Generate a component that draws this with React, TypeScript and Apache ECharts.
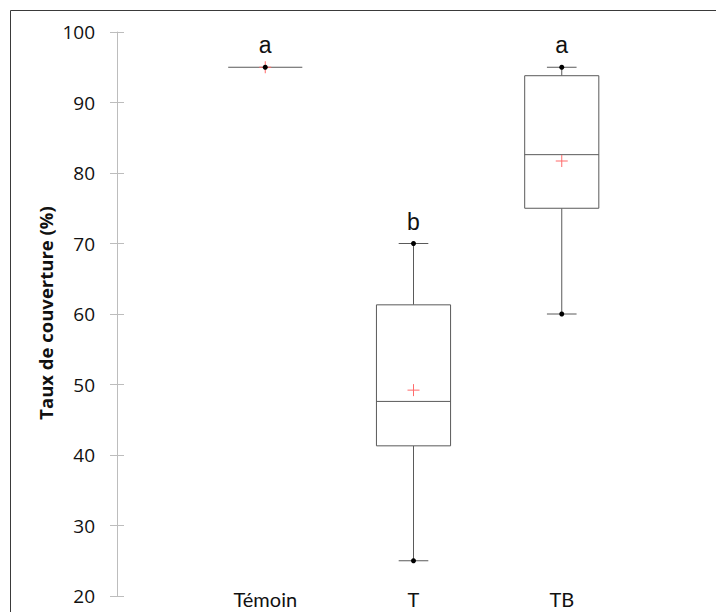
import React, { useEffect, useRef } from "react";
import * as echarts from "echarts";

// ---- data ----
const categories = ["Témoin", "T", "TB"];
const minValues = [95, 25, 60];
const q1Values = [95, 41.3, 75];
const medianValues = [95, 47.6, 82.6];
const q3Values = [95, 61.3, 93.8];
const maxValues = [95, 70, 95];
const meanValues = [95, 49.2, 81.7];
const letters = ["a", "b", "a"];
const yTicks = { min: 20, max: 100, interval: 10 };
const yAxisTitle = "Taux de couverture (%)";

const axisCategories = ["", ...categories, ""];

export default function App() {
  const ref = useRef<HTMLDivElement>(null);

  useEffect(() => {
    if (!ref.current) return;
    const chart = echarts.init(ref.current, null, { renderer: "svg" });

    const seriesData = categories.map((_, i) => [
      i + 1,
      minValues[i],
      q1Values[i],
      medianValues[i],
      q3Values[i],
      maxValues[i],
      meanValues[i],
    ]);

    const lineColor = "#5a5a5a";

    const renderItem = (params: any, api: any) => {
      const xi = api.value(0);
      const band = api.size([1, 0])[0];
      const boxW = band * 0.5;
      const capW = band * 0.2;
      const pMin = api.coord([xi, api.value(1)]);
      const pQ1 = api.coord([xi, api.value(2)]);
      const pMed = api.coord([xi, api.value(3)]);
      const pQ3 = api.coord([xi, api.value(4)]);
      const pMax = api.coord([xi, api.value(5)]);
      const pMean = api.coord([xi, api.value(6)]);
      const cx = pMed[0];
      const lineStyle = { stroke: lineColor, lineWidth: 1, fill: "none" };
      const children: any[] = [];
      const collapsed = api.value(1) === api.value(5);
      if (!collapsed) {
        children.push({
          type: "line",
          shape: { x1: cx, y1: pMax[1], x2: cx, y2: pQ3[1] },
          style: lineStyle,
        });
        children.push({
          type: "line",
          shape: { x1: cx, y1: pQ1[1], x2: cx, y2: pMin[1] },
          style: lineStyle,
        });
        children.push({
          type: "line",
          shape: { x1: cx - capW / 2, y1: pMax[1], x2: cx + capW / 2, y2: pMax[1] },
          style: lineStyle,
        });
        children.push({
          type: "line",
          shape: { x1: cx - capW / 2, y1: pMin[1], x2: cx + capW / 2, y2: pMin[1] },
          style: lineStyle,
        });
        children.push({
          type: "rect",
          shape: { x: cx - boxW / 2, y: pQ3[1], width: boxW, height: pQ1[1] - pQ3[1] },
          style: { stroke: lineColor, lineWidth: 1, fill: "#ffffff" },
        });
      }
      children.push({
        type: "line",
        shape: { x1: cx - boxW / 2, y1: pMed[1], x2: cx + boxW / 2, y2: pMed[1] },
        style: lineStyle,
      });
      const m = 6;
      children.push({
        type: "line",
        shape: { x1: pMean[0] - m, y1: pMean[1], x2: pMean[0] + m, y2: pMean[1] },
        style: { stroke: "#ff6b6b", lineWidth: 1 },
      });
      children.push({
        type: "line",
        shape: { x1: pMean[0], y1: pMean[1] - m, x2: pMean[0], y2: pMean[1] + m },
        style: { stroke: "#ff6b6b", lineWidth: 1 },
      });
      children.push({
        type: "circle",
        shape: { cx, cy: pMax[1], r: 2.5 },
        style: { fill: "#000000" },
      });
      if (!collapsed) {
        children.push({
          type: "circle",
          shape: { cx, cy: pMin[1], r: 2.5 },
          style: { fill: "#000000" },
        });
      }
      children.push({
        type: "text",
        style: {
          text: letters[params.dataIndex],
          x: cx,
          y: pMax[1] - 22,
          align: "center",
          verticalAlign: "middle",
          font: '23px "Liberation Sans", Arial, sans-serif',
          fill: "#111111",
        },
      });
      return { type: "group", children };
    };

    chart.setOption({
      animation: false,
      grid: { left: 117, right: 6, top: 32, bottom: 16, containLabel: false },
      xAxis: {
        type: "category",
        data: axisCategories,
        boundaryGap: false,
        axisLine: { show: false },
        axisTick: { show: false },
        splitLine: { show: false },
        axisLabel: {
          interval: 0,
          margin: 3,
          verticalAlign: "middle",
          lineHeight: 15,
          color: "#111111",
          fontFamily: "Lato, sans-serif",
          fontSize: 20,
        },
      },
      yAxis: [
        {
          type: "value",
          min: yTicks.min,
          max: yTicks.max,
          interval: yTicks.interval,
          position: "left",
          axisLine: { show: true, lineStyle: { color: "#bdbdbd", width: 1 } },
          axisTick: { show: true, inside: false, length: 7, lineStyle: { color: "#bdbdbd" } },
          splitLine: { show: false },
          axisLabel: {
            margin: 22,
            color: "#111111",
            fontFamily: '"Open Sans", sans-serif',
            fontSize: 19,
          },
        },
        {
          type: "value",
          min: yTicks.min,
          max: yTicks.max,
          interval: yTicks.interval,
          position: "left",
          offset: 0,
          axisLine: { show: false },
          axisTick: { show: true, inside: true, length: 7, lineStyle: { color: "#bdbdbd" } },
          splitLine: { show: false },
          axisLabel: { show: false },
        },
      ],
      graphic: [
        {
          type: "rect",
          shape: { x: 10.5, y: 10.5, width: 800, height: 800 },
          style: { fill: "none", stroke: "#3a3a3a", lineWidth: 1 },
          silent: true,
        },
        {
          type: "text",
          x: 45,
          y: 313,
          rotation: Math.PI / 2,
          style: {
            text: yAxisTitle,
            font: 'bold 18.5px "Open Sans", sans-serif',
            fill: "#111111",
            align: "center",
            verticalAlign: "middle",
          },
        },
      ],
      series: [
        {
          type: "custom",
          xAxisIndex: 0,
          yAxisIndex: 0,
          data: seriesData,
          renderItem,
          clip: false,
          z: 5,
        },
      ],
    });

    return () => chart.dispose();
  }, []);

  return (
    <div
      ref={ref}
      style={{ position: "fixed", left: 0, top: 0, width: 716, height: 612, background: "#ffffff" }}
    />
  );
}
